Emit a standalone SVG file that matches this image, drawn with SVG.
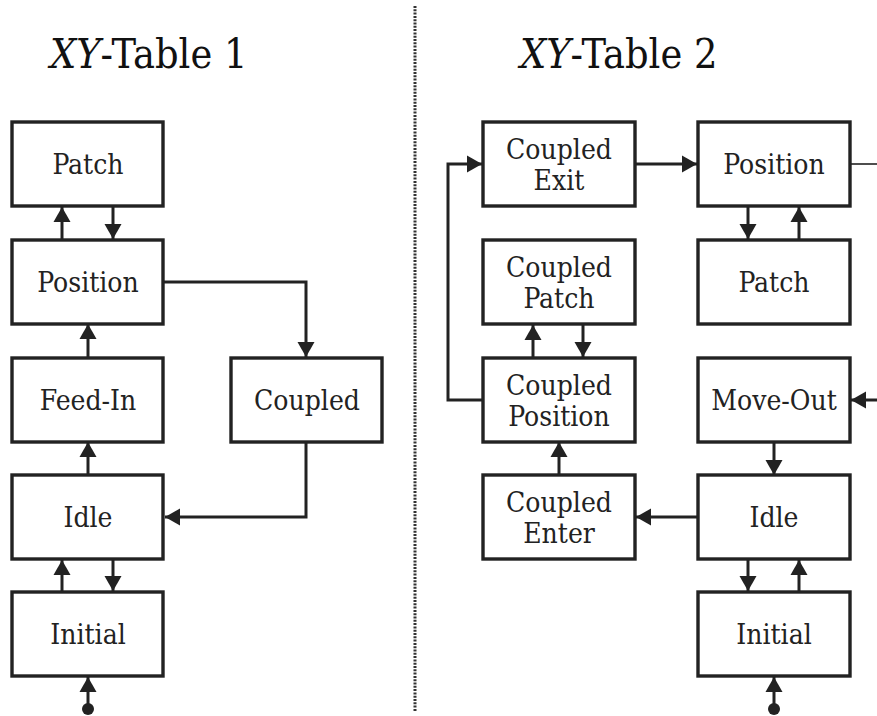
<svg xmlns="http://www.w3.org/2000/svg" width="877" height="716" viewBox="0 0 877 716">
<style>
.box{fill:#fff;stroke:#222;stroke-width:3.4}
.lbl{font-family:'DejaVu Serif Condensed','DejaVu Serif',serif;font-size:28px;fill:#222;text-anchor:middle}
.ttl{font-family:'DejaVu Serif Condensed','DejaVu Serif',serif;font-size:41px;fill:#111}
.ca{fill:none;stroke:#222;stroke-width:3;marker-end:url(#ah)}
</style>
<defs>
<marker id="ah" markerUnits="userSpaceOnUse" markerWidth="16" markerHeight="18" refX="15" refY="9" orient="auto">
<path d="M0,0.5 L15,9 L0,17.5 z" fill="#222"/>
</marker>
</defs>
<text class="ttl" x="50" y="68"><tspan font-style="italic">XY</tspan>-Table 1</text>
<text class="ttl" x="520" y="68"><tspan font-style="italic">XY</tspan>-Table 2</text>
<line x1="415" y1="6" x2="415" y2="712" stroke="#333" stroke-width="3" stroke-dasharray="2 1.3"/>
<g id="connectors">
<line class="ca" x1="62" y1="240" x2="62" y2="207"/>
<line class="ca" x1="113" y1="206" x2="113" y2="239"/>
<line class="ca" x1="88" y1="357" x2="88" y2="324"/>
<line class="ca" x1="88" y1="475" x2="88" y2="442"/>
<line class="ca" x1="62" y1="592" x2="62" y2="560"/>
<line class="ca" x1="113" y1="559" x2="113" y2="591"/>
<line class="ca" x1="88" y1="709" x2="88" y2="677"/>
<circle cx="88" cy="709" r="6" fill="#222"/>
<polyline class="ca" points="164,282 306,282 306,357"/>
<polyline class="ca" points="306,442 306,517 165,517"/>
<line class="ca" x1="636" y1="164" x2="697" y2="164"/>
<polyline class="ca" points="483,400 448,400 448,164 482,164"/>
<line class="ca" x1="533" y1="358" x2="533" y2="325"/>
<line class="ca" x1="583" y1="324" x2="583" y2="357"/>
<line class="ca" x1="559" y1="475" x2="559" y2="442"/>
<line class="ca" x1="697" y1="517" x2="636" y2="517"/>
<line class="ca" x1="748" y1="206" x2="748" y2="239"/>
<line class="ca" x1="799" y1="240" x2="799" y2="207"/>
<line class="ca" x1="774" y1="442" x2="774" y2="475"/>
<line class="ca" x1="748" y1="559" x2="748" y2="591"/>
<line class="ca" x1="799" y1="592" x2="799" y2="560"/>
<line class="ca" x1="774" y1="709" x2="774" y2="677"/>
<circle cx="774" cy="709" r="6" fill="#222"/>
<line x1="850" y1="164" x2="877" y2="164" stroke="#222" stroke-width="1.6"/>
<line class="ca" x1="877" y1="400" x2="851" y2="400"/>
</g>
<g id="t1-patch"><rect class="box" x="12" y="122" width="151" height="84"/><text class="lbl" x="88" y="174">Patch</text></g>
<g id="t1-position"><rect class="box" x="12" y="240" width="151" height="84"/><text class="lbl" x="88" y="292">Position</text></g>
<g id="t1-feedin"><rect class="box" x="12" y="358" width="151" height="84"/><text class="lbl" x="88" y="410">Feed-In</text></g>
<g id="t1-coupled"><rect class="box" x="231" y="358" width="151" height="84"/><text class="lbl" x="307" y="410">Coupled</text></g>
<g id="t1-idle"><rect class="box" x="12" y="475" width="151" height="84"/><text class="lbl" x="88" y="527">Idle</text></g>
<g id="t1-initial"><rect class="box" x="12" y="592" width="151" height="84"/><text class="lbl" x="88" y="644">Initial</text></g>
<g id="t2-coupled-exit"><rect class="box" x="483" y="122" width="152" height="84"/><text class="lbl" x="559" y="159">Coupled</text><text class="lbl" x="559" y="190">Exit</text></g>
<g id="t2-position"><rect class="box" x="698" y="122" width="152" height="84"/><text class="lbl" x="774" y="174">Position</text></g>
<g id="t2-coupled-patch"><rect class="box" x="483" y="240" width="152" height="84"/><text class="lbl" x="559" y="277">Coupled</text><text class="lbl" x="559" y="308">Patch</text></g>
<g id="t2-patch"><rect class="box" x="698" y="240" width="152" height="84"/><text class="lbl" x="774" y="292">Patch</text></g>
<g id="t2-coupled-position"><rect class="box" x="483" y="358" width="152" height="84"/><text class="lbl" x="559" y="395">Coupled</text><text class="lbl" x="559" y="426">Position</text></g>
<g id="t2-moveout"><rect class="box" x="698" y="358" width="152" height="84"/><text class="lbl" x="774" y="410">Move-Out</text></g>
<g id="t2-coupled-enter"><rect class="box" x="483" y="475" width="152" height="84"/><text class="lbl" x="559" y="512">Coupled</text><text class="lbl" x="559" y="543">Enter</text></g>
<g id="t2-idle"><rect class="box" x="698" y="475" width="152" height="84"/><text class="lbl" x="774" y="527">Idle</text></g>
<g id="t2-initial"><rect class="box" x="698" y="592" width="152" height="84"/><text class="lbl" x="774" y="644">Initial</text></g>
</svg>
